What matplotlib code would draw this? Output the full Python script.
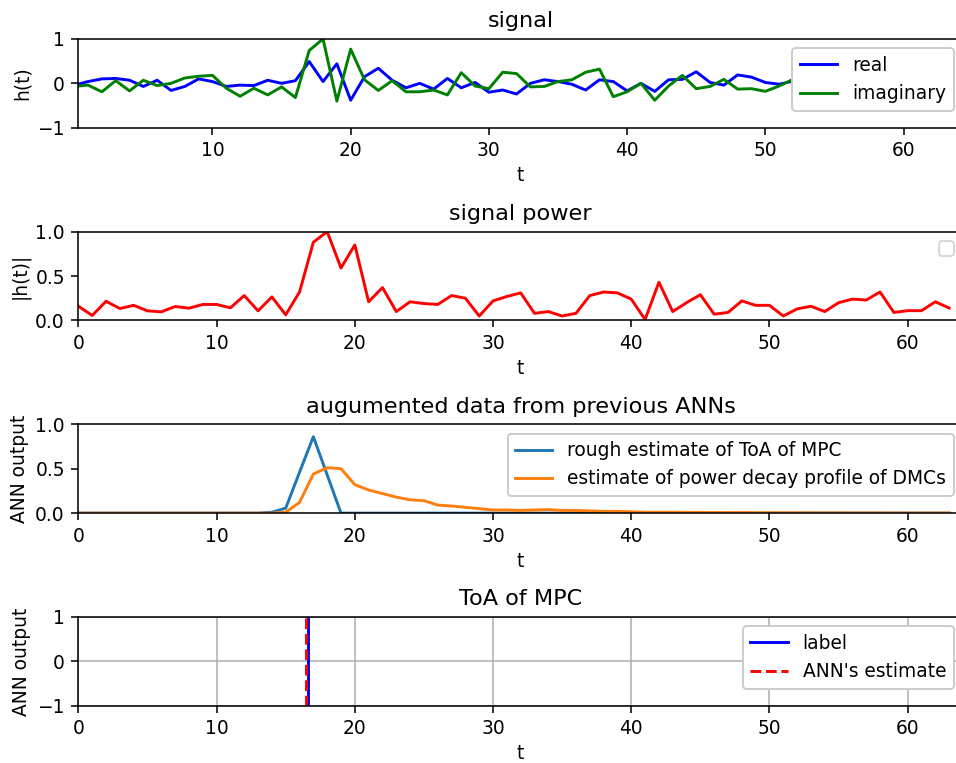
import numpy as np
import matplotlib
matplotlib.use('Agg')
import matplotlib.pyplot as plt

plt.rcParams['font.size'] = 9.6
plt.rcParams['axes.labelpad'] = 3.0

t = np.arange(64)

# real / imaginary part of the channel signal h(t)
h_real = [-0.04, 0.04, 0.10, 0.11, 0.07, -0.07, 0.07, -0.16, -0.07, 0.10,
          0.04, -0.07, -0.04, -0.05, 0.07, 0.00, 0.06, 0.49, 0.04, 0.44,
          -0.38, 0.15, 0.34, 0.07, -0.10, 0.00, -0.13, 0.11, -0.10, 0.02,
          -0.20, -0.15, -0.24, 0.00, 0.08, 0.04, -0.02, -0.15, 0.08, 0.04,
          -0.17, 0.00, -0.18, 0.08, 0.09, 0.26, 0.02, -0.04, 0.19, 0.14,
          0.02, -0.02, 0.05, 0.10, -0.06, 0.12, -0.15, 0.18, 0.22, -0.05,
          0.08, 0.06, -0.15, 0.10]
h_imag = [-0.07, -0.04, -0.19, 0.06, -0.17, 0.07, -0.05, 0.00, 0.12, 0.16,
          0.18, -0.11, -0.29, -0.11, -0.26, -0.08, -0.32, 0.74, 1.00, -0.40,
          0.77, 0.08, -0.16, 0.06, -0.19, -0.19, -0.15, -0.26, 0.24, -0.06,
          -0.12, 0.25, 0.22, -0.08, -0.07, 0.04, 0.08, 0.25, 0.32, -0.30,
          -0.19, 0.00, -0.38, -0.06, 0.18, -0.12, -0.07, 0.09, -0.13, -0.12,
          -0.18, -0.06, 0.09, 0.12, 0.08, -0.16, -0.19, -0.16, 0.25, 0.07,
          -0.08, 0.09, 0.14, -0.10]
h_abs = [0.16, 0.056, 0.216, 0.134, 0.17, 0.108, 0.097, 0.157, 0.138, 0.18,
         0.18, 0.142, 0.28, 0.108, 0.265, 0.063, 0.32, 0.88, 1.0, 0.59,
         0.85, 0.21, 0.37, 0.10, 0.21, 0.19, 0.18, 0.28, 0.25, 0.05,
         0.22, 0.27, 0.31, 0.08, 0.10, 0.05, 0.08, 0.28, 0.32, 0.31,
         0.24, 0.01, 0.43, 0.10, 0.20, 0.29, 0.07, 0.09, 0.22, 0.17,
         0.17, 0.05, 0.13, 0.16, 0.10, 0.20, 0.24, 0.23, 0.32, 0.09,
         0.11, 0.11, 0.21, 0.14]

# outputs of the previous networks
rough_toa = [0.0] * 14 + [0.01, 0.056, 0.46, 0.86, 0.43, 0.0] + [0.0] * 44
dmc_profile = [0.0] * 15 + [0.01, 0.12, 0.44, 0.51, 0.50, 0.32, 0.26, 0.22,
               0.18, 0.15, 0.14, 0.09, 0.08, 0.065, 0.05, 0.035, 0.035,
               0.03, 0.035, 0.04, 0.03, 0.03, 0.025, 0.02, 0.02, 0.015,
               0.01, 0.01, 0.01, 0.008, 0.008, 0.007, 0.006, 0.006, 0.005,
               0.005, 0.004, 0.004, 0.003, 0.003, 0.003, 0.002, 0.002,
               0.002, 0.001, 0.001, 0.001, 0.001, 0.001]

toa_label = 16.63
toa_estimate = 16.49

fig, axs = plt.subplots(4, 1, figsize=(956 / 140, 763 / 140), dpi=140)
fig.subplots_adjust(left=0.082, right=1.0073, bottom=0.075, top=0.949, hspace=1.168)

ax = axs[0]
ax.plot(t, h_real, color='blue', label='real')
ax.plot(t, h_imag, color='green', label='imaginary')
ax.set_title('signal')
ax.set_xlabel('t')
ax.set_ylabel('h(t)')
ax.set_ylim(-1, 1)
ax.set_xlim(0.3, 64.3)
ax.set_xticks([10, 20, 30, 40, 50, 60])
ax.legend(loc='upper right', framealpha=1)

ax = axs[1]
ax.plot(t, h_abs, color='red')
ax.set_title('signal power')
ax.set_xlabel('t')
ax.set_ylabel('|h(t)|')
ax.set_ylim(0, 1)
ax.set_xlim(0, 64)
ax.set_xticks([0, 10, 20, 30, 40, 50, 60])
ax.legend(handles=[], loc='upper right')

ax = axs[2]
ax.plot(t, rough_toa, label='rough estimate of ToA of MPC')
ax.plot(t, dmc_profile, label='estimate of power decay profile of DMCs')
ax.set_title('augumented data from previous ANNs')
ax.set_xlabel('t')
ax.set_ylabel('ANN output')
ax.set_ylim(0, 1)
ax.set_xlim(0, 64)
ax.set_xticks([0, 10, 20, 30, 40, 50, 60])
ax.legend(loc='upper right', framealpha=1)

ax = axs[3]
ax.plot([toa_label, toa_label], [-1, 1], color='blue', label='label')
ax.plot([toa_estimate, toa_estimate], [-1, 1], 'r--', label="ANN's estimate")
ax.set_title('ToA of MPC')
ax.set_xlabel('t')
ax.set_ylabel('ANN output')
ax.set_ylim(-1, 1)
ax.set_xlim(0, 64)
ax.set_xticks([0, 10, 20, 30, 40, 50, 60])
ax.grid(True)
ax.legend(loc='upper right', framealpha=1)

fig.savefig('out.png', dpi=140)
